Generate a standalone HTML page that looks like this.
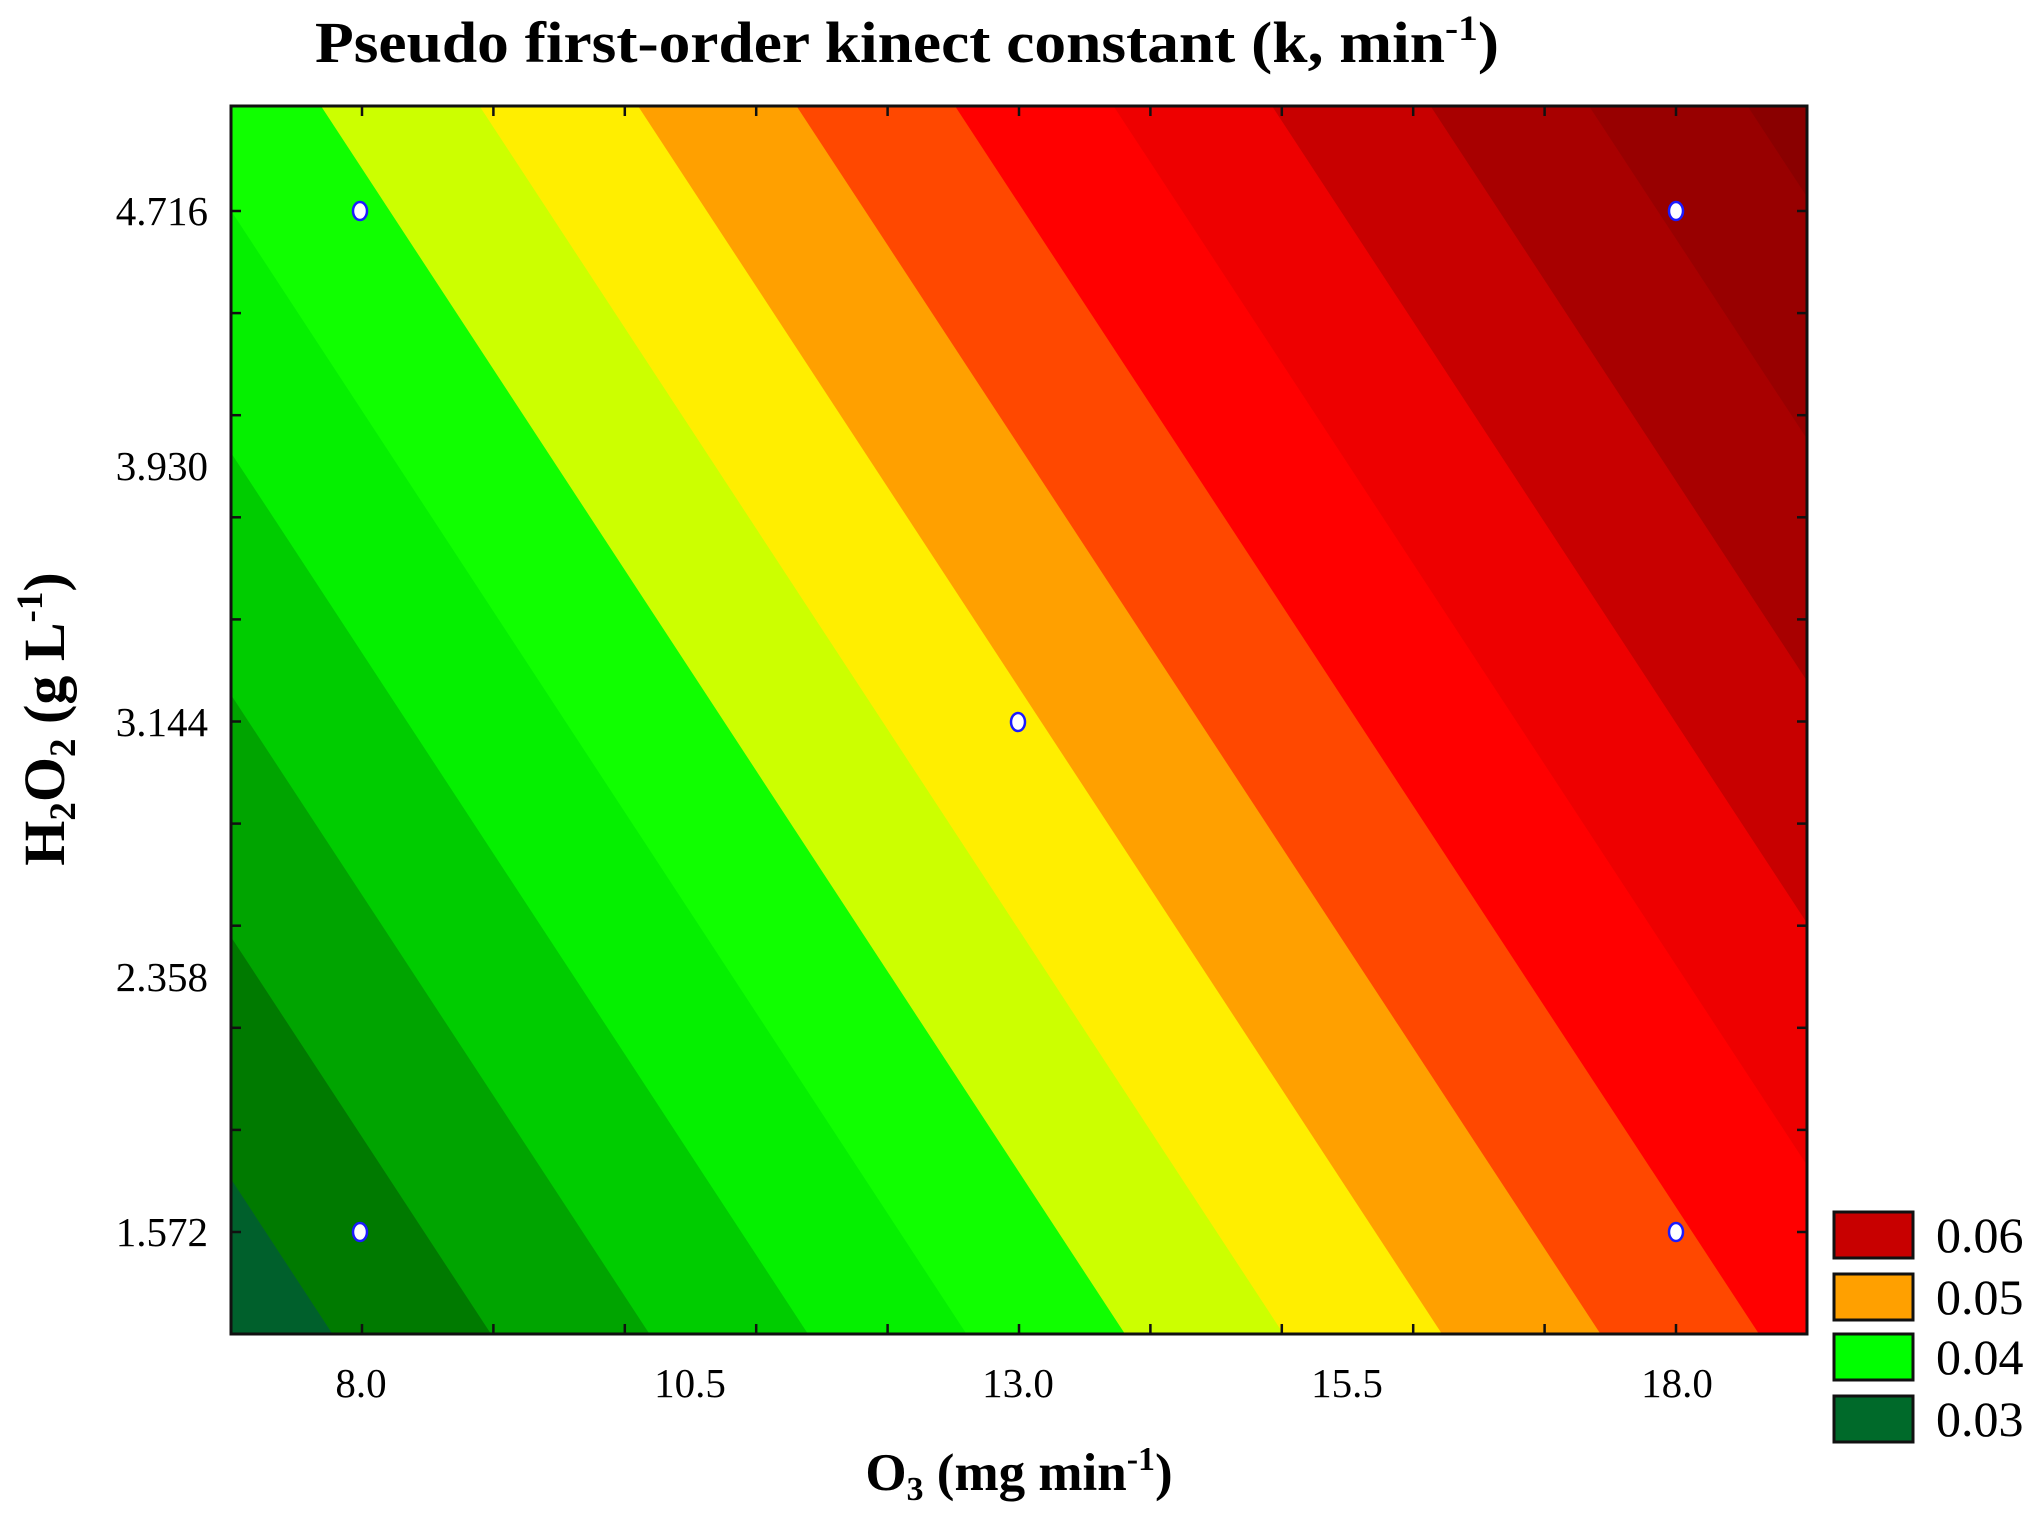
<!DOCTYPE html>
<html><head><meta charset="utf-8"><style>
html,body{margin:0;padding:0;background:#fff;}
svg{display:block;}
text{font-family:"Liberation Serif",serif;fill:#000;}
</style></head><body>
<svg width="2031" height="1513" viewBox="0 0 2031 1513" xmlns="http://www.w3.org/2000/svg">
<defs><clipPath id="c"><rect x="231" y="106" width="1576" height="1228"/></clipPath></defs>
<g clip-path="url(#c)" id="bands"></g>
<rect x="231" y="106" width="1576" height="1228" fill="none" stroke="#111" stroke-width="3"/>
<g id="ticks" stroke="#111" stroke-width="2.5"></g>
<g id="pts"></g>
<text x="315" y="62" font-size="58" font-weight="bold" textLength="1184" lengthAdjust="spacingAndGlyphs">Pseudo first-order kinect constant (k, min<tspan font-size="36" dy="-22">-1</tspan><tspan dy="22">)</tspan></text>
<g font-size="41" text-anchor="middle">
<text x="361" y="1397">8.0</text><text x="690" y="1397">10.5</text><text x="1018" y="1397">13.0</text><text x="1347" y="1397">15.5</text><text x="1677" y="1397">18.0</text>
</g>
<g font-size="41" text-anchor="end">
<text x="208" y="225">4.716</text><text x="208" y="480">3.930</text><text x="208" y="736">3.144</text><text x="208" y="991">2.358</text><text x="208" y="1246">1.572</text>
</g>
<text x="1019" y="1490" font-size="53" font-weight="bold" text-anchor="middle">O<tspan font-size="34" dy="10">3</tspan><tspan dy="-10"> (mg min</tspan><tspan font-size="34" dy="-20">-1</tspan><tspan dy="20">)</tspan></text>
<text transform="translate(64,719) rotate(-90)" font-size="58" font-weight="bold" text-anchor="middle">H<tspan font-size="37" dy="11">2</tspan><tspan dy="-11">O</tspan><tspan font-size="37" dy="11">2</tspan><tspan dy="-11"> (g L</tspan><tspan font-size="37" dy="-22">-1</tspan><tspan dy="22">)</tspan></text>
<g stroke="#111" stroke-width="3">
<rect x="1834" y="1212" width="79" height="46" fill="#c80000"/>
<rect x="1834" y="1274" width="79" height="46" fill="#ffa000"/>
<rect x="1834" y="1334" width="79" height="46" fill="#00ff00"/>
<rect x="1834" y="1396" width="79" height="46" fill="#006a2a"/>
</g>
<g font-size="50">
<text x="1936" y="1252">0.06</text><text x="1936" y="1314">0.05</text><text x="1936" y="1374">0.04</text><text x="1936" y="1436">0.03</text>
</g>
</svg>
<script>
const NS="http://www.w3.org/2000/svg";
const cols=["#00602c","#007a00","#00a400","#00cc00","#05f000","#10ff00","#ccff00","#ffee00","#ffa000","#ff4800","#ff0000","#ee0000","#c80000","#a80000","#980000","#8a0000"];
const xt=j=>321+158.5*j, xb=j=>1125+158.5*j;
const g=document.getElementById("bands");
for(let i=0;i<cols.length;i++){
 const j0=i-6, j1=i-5;
 let a0t=xt(j0),a0b=xb(j0),a1t=xt(j1),a1b=xb(j1);
 if(i==0){a0t-=3000;a0b-=3000;}
 if(i==cols.length-1){a1t+=3000;a1b+=3000;}
 const p=document.createElementNS(NS,"polygon");
 p.setAttribute("points",`${a0t},106 ${a1t+0.6},106 ${a1b+0.6},1334 ${a0b},1334`);
 p.setAttribute("fill",cols[i]);g.appendChild(p);
}
const t=document.getElementById("ticks");
function ln(x1,y1,x2,y2){const l=document.createElementNS(NS,"line");l.setAttribute("x1",x1);l.setAttribute("y1",y1);l.setAttribute("x2",x2);l.setAttribute("y2",y2);t.appendChild(l);}
for(let n=0;n<=10;n++){const x=362+131.4*n;ln(x,1334,x,1324);ln(x,106,x,116);}
for(let n=0;n<=10;n++){const y=211+102.1*n;ln(231,y,241,y);ln(1807,y,1797,y);}
const pg=document.getElementById("pts");
[[360,211],[1676,211],[1018,722],[360,1232],[1676,1232]].forEach(([x,y])=>{
 const e=document.createElementNS(NS,"ellipse");e.setAttribute("cx",x);e.setAttribute("cy",y);e.setAttribute("rx",7);e.setAttribute("ry",9);
 e.setAttribute("fill","#fff");e.setAttribute("stroke","#1a1aff");e.setAttribute("stroke-width","2.5");pg.appendChild(e);
});
</script>
</body></html>
